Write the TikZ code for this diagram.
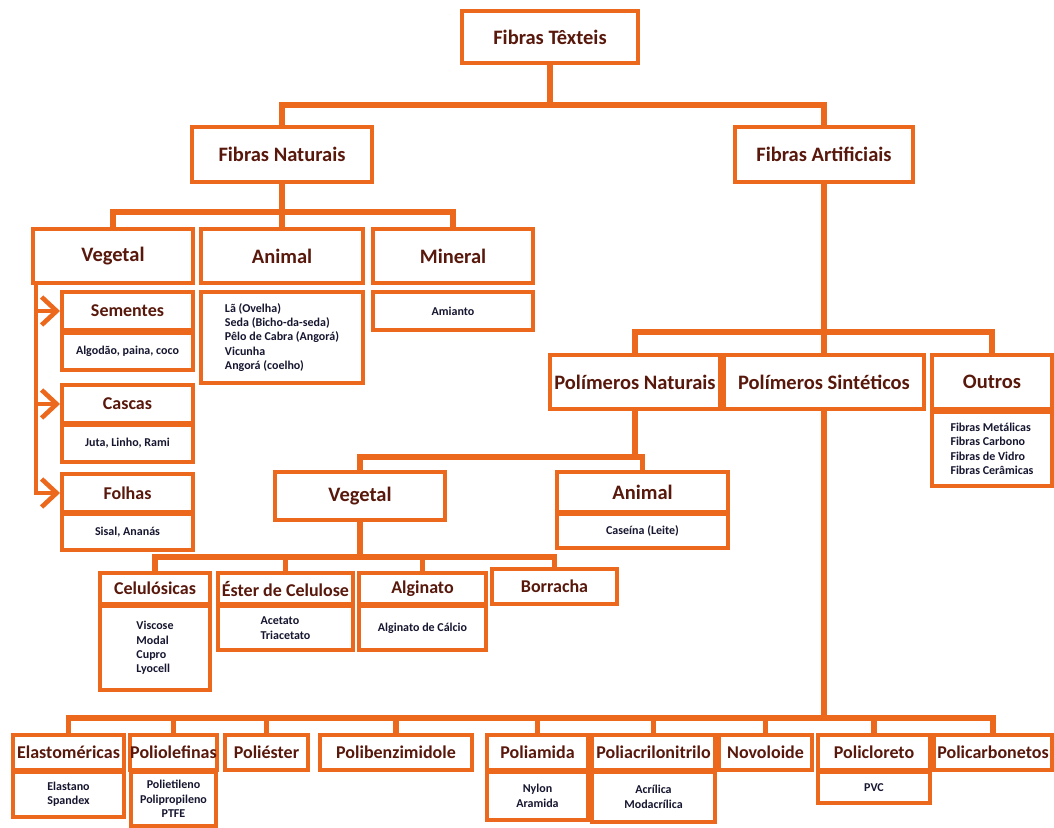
\documentclass[tikz,border=0pt]{standalone}
\usepackage{fontspec}
\setmainfont{Carlito}
\usetikzlibrary{arrows.meta,backgrounds}
\definecolor{org}{RGB}{236,104,28}
\definecolor{mar}{RGB}{88,24,12}
\definecolor{nav}{RGB}{22,22,48}
\newcommand\mybox[7]{\node[#6, minimum width={(#4-#2)*1pt}, minimum height={(#5-#3)*1pt}] (#1) at ({(#2+#4)/2},{(#3+#5)/2}) {#7};}
\begin{document}
\begin{tikzpicture}[x=1pt,y=-1pt,
 bx/.style={draw=org, line width=4pt, fill=white, inner sep=0pt},
 hd/.style={bx, text=mar, font=\bfseries\fontsize{20.5}{24}\selectfont},
 hs/.style={bx, text=mar, font=\bfseries\fontsize{18}{21}\selectfont},
 sb/.style={bx, text=nav, font=\bfseries\fontsize{12}{14.4}\selectfont, align=center},
 sl/.style={bx, text=nav, font=\bfseries\fontsize{12}{14.4}\selectfont, align=left},
 conn/.style={draw=org, line width=5.4pt, line cap=rect},
 arr/.style={draw=org, line width=4.6pt, -{Straight Barb[length=15pt,width=28pt]}}]
\useasboundingbox (0,0) rectangle (1054,827);
% top
\mybox{tex}{462}{11}{638}{63}{hd}{Fibras Têxteis}
\mybox{nat}{192}{127}{372}{182}{hd}{Fibras Naturais}
\mybox{art}{735}{127}{913}{182}{hd}{Fibras Artificiais}
% natural
\mybox{veg}{33}{229}{193}{283}{hd}{Vegetal}
\mybox{ani}{201}{229}{363}{283}{hd}{Animal}
\mybox{min}{373}{229}{533}{283}{hd}{Mineral}
\mybox{aniS}{201}{292}{363}{383}{sl}{Lã (Ovelha)\\Seda (Bicho-da-seda)\\Pêlo de Cabra (Angorá)\\Vicunha\\Angorá (coelho)}
\mybox{minS}{373}{292}{533}{330}{sb}{Amianto}
\mybox{sem}{62}{292}{193}{330}{hs}{Sementes}
\mybox{semS}{62}{333}{193}{370}{sb}{Algodão, paina, coco}
\mybox{cas}{62}{385}{193}{423}{hs}{Cascas}
\mybox{casS}{62}{425}{193}{462}{sb}{Juta, Linho, Rami}
\mybox{fol}{62}{474}{193}{512}{hs}{Folhas}
\mybox{folS}{62}{514}{193}{550}{sb}{Sisal, Ananás}
% artificial
\mybox{pn}{550}{355}{720}{409}{hd}{Polímeros Naturais}
\mybox{ps}{724}{355}{924}{409}{hd}{Polímeros Sintéticos}
\mybox{out}{932}{355}{1052}{409}{hd}{Outros}
\mybox{outS}{932}{412}{1052}{486}{sl}{Fibras Metálicas\\Fibras Carbono\\Fibras de Vidro\\Fibras Cerâmicas}
\mybox{pveg}{275}{472}{445}{520}{hd}{Vegetal}
\mybox{pani}{557}{472}{728}{512}{hd}{Animal}
\mybox{paniS}{557}{514}{728}{548}{sb}{Caseína (Leite)}
\mybox{cel}{100}{573}{210}{604}{hs}{Celulósicas}
\mybox{celS}{100}{606}{210}{690}{sl}{Viscose\\Modal\\Cupro\\Lyocell}
\mybox{est}{218}{573}{353}{604}{hs}{Éster de Celulose}
\mybox{estS}{218}{606}{353}{650}{sl}{Acetato\\Triacetato}
\mybox{alg}{359}{573}{486}{604}{hs}{Alginato}
\mybox{algS}{359}{606}{486}{650}{sb}{Alginato de Cálcio}
\mybox{bor}{492}{569}{617}{604}{hs}{Borracha}
% bottom
\mybox{ela}{13}{735}{124}{770}{hs}{Elastoméricas}
\mybox{elaS}{13}{772}{124}{817}{sb}{Elastano\\Spandex}
\mybox{pol}{131}{735}{216}{770}{hs}{Poliolefinas}
\mybox{polS}{131}{772}{216}{826}{sb}{Polietileno\\Polipropileno\\PTFE}
\mybox{pes}{225}{735}{308}{770}{hs}{Poliéster}
\mybox{pbi}{320}{735}{472}{770}{hs}{Polibenzimidole}
\mybox{pam}{487}{735}{588}{770}{hs}{Poliamida}
\mybox{pamS}{487}{772}{588}{820}{sb}{Nylon\\Aramida}
\mybox{pac}{592}{735}{715}{770}{hs}{Poliacrilonitrilo}
\mybox{pacS}{592}{772}{715}{822}{sb}{Acrílica\\Modacrílica}
\mybox{nov}{719}{735}{812}{770}{hs}{Novoloide}
\mybox{pcl}{818}{735}{930}{770}{hs}{Policloreto}
\mybox{pclS}{818}{772}{930}{803}{sb}{PVC}
\mybox{pcb}{934}{735}{1052}{770}{hs}{Policarbonetos}
% buses
\coordinate (b1) at (282,105);
\coordinate (b2) at (113,212);
\coordinate (b3) at (635,332);
\coordinate (b4) at (360,457);
\coordinate (b5) at (155,557);
\coordinate (b6) at (68.5,718);
\coordinate (vv) at (36,283);
\begin{pgfonlayer}{background}
\fill[white] (0,0) rectangle (1054,827);
\draw[conn] (tex) |- (b1);
\draw[conn] (art) |- (b1);
\draw[conn] (nat) -- (b1);
\draw[conn] (nat) |- (b2);
\draw[conn] (ani) |- (b2);
\draw[conn] (min) |- (b2);
\draw[conn] (veg) -- (b2);
\draw[conn] (art) |- (b3);
\draw[conn] (ps) |- (b3);
\draw[conn] (out) |- (b3);
\draw[conn] (pn) -- (b3);
\draw[conn] (pn) |- (b4);
\draw[conn] (pani) |- (b4);
\draw[conn] (pveg) -- (b4);
\draw[conn] (pveg) |- (b5);
\draw[conn] (est) |- (b5);
\draw[conn] (alg) |- (b5);
\draw[conn] (bor) |- (b5);
\draw[conn] (cel) -- (b5);
\draw[conn] (ps) |- (b6);
\foreach \n in {pol,pes,pbi,pam,pac,nov,pcl,pcb} {\draw[conn] (\n) |- (b6);}
\draw[conn] (ela) -- (b6);
\end{pgfonlayer}
\draw[arr] (vv) |- (sem.west);
\draw[arr] (vv) |- (cas.west);
\draw[arr] (vv) |- (fol.west);
\end{tikzpicture}
\end{document}
